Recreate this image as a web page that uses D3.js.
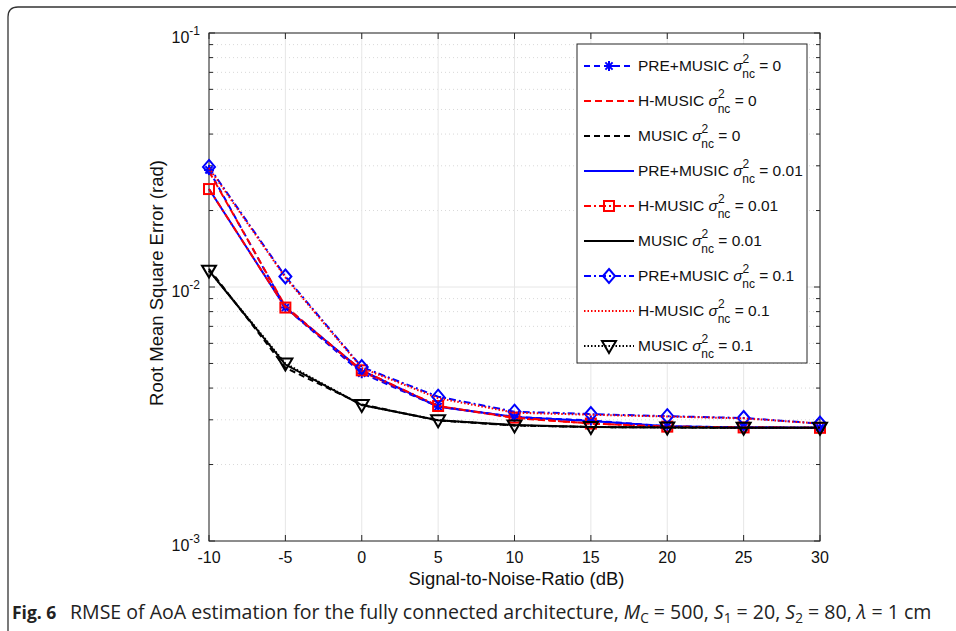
<!DOCTYPE html>
<html>
<head>
<meta charset="utf-8">
<script src="https://cdn.jsdelivr.net/npm/d3@7"></script>
<style>
  body { margin: 0; background: #fff; }
  svg { display: block; font-family: "Liberation Sans", Arial, sans-serif; }
</style>
</head>
<body>
<div id="chart"></div>
<script>
"use strict";

// === DATA ===
const snr = [-10, -5, 0, 5, 10, 15, 20, 25, 30];
const xTicks = [-10, -5, 0, 5, 10, 15, 20, 25, 30];
const yDecades = [-3, -2, -1];

const prePerfect = [0.0289, 0.0083, 0.00458, 0.00338, 0.00308, 0.00298, 0.00283, 0.0028, 0.00279];
const hPerfect = [0.0285, 0.0084, 0.00465, 0.0034, 0.00305, 0.0029, 0.00282, 0.0028, 0.00279];
const musicPerfect = [0.0118, 0.00481, 0.00345, 0.00298, 0.00285, 0.00281, 0.0028, 0.00279, 0.00279];
const preSmall = [0.0243, 0.0083, 0.0047, 0.00338, 0.00308, 0.00297, 0.00283, 0.0028, 0.00279];
const hSmall = [0.0243, 0.0083, 0.0047, 0.0034, 0.00306, 0.0029, 0.00282, 0.0028, 0.00279];
const musicSmall = [0.0116, 0.00495, 0.00343, 0.00299, 0.00286, 0.00281, 0.0028, 0.00279, 0.00279];
const preLarge = [0.0297, 0.0110, 0.00484, 0.0037, 0.00323, 0.00316, 0.0031, 0.00305, 0.0029];
const hLarge = [0.0294, 0.0109, 0.0048, 0.00365, 0.0032, 0.00314, 0.00309, 0.00304, 0.0029];
const musicLarge = [0.0116, 0.0050, 0.00343, 0.00299, 0.00285, 0.00281, 0.0028, 0.00279, 0.00279];

const seriesNames = ["PRE+MUSIC", "H-MUSIC", "MUSIC", "PRE+MUSIC", "H-MUSIC", "MUSIC", "PRE+MUSIC", "H-MUSIC", "MUSIC"];
const seriesNoise = ["0", "0", "0", "0.01", "0.01", "0.01", "0.1", "0.1", "0.1"];
const seriesValues = [prePerfect, hPerfect, musicPerfect, preSmall, hSmall, musicSmall, preLarge, hLarge, musicLarge];

// line styles
const styles = [
  { color: "#0000ff", dash: "6,4", marker: "star" },
  { color: "#ff0000", dash: "7,4", marker: null },
  { color: "#000000", dash: "6,4", marker: null },
  { color: "#0000ff", dash: null, marker: null },
  { color: "#ff0000", dash: "7,3,2,3", marker: "square" },
  { color: "#000000", dash: null, marker: null },
  { color: "#0000ff", dash: "7,3,2,3", marker: "diamond" },
  { color: "#ff0000", dash: "1.5,2", marker: null },
  { color: "#000000", dash: "1.5,2", marker: "triangle" }
];

// === SVG SETUP ===
const W = 956, H = 631;
const plot = { left: 209, right: 820, top: 33, bottom: 541 };

const svg = d3.select("#chart").append("svg")
  .attr("width", W).attr("height", H);

// page frame (rounded corner top-left)
svg.append("path")
  .attr("d", "M8,631 L8,17 Q8,7 18,7 L956,7")
  .attr("fill", "none")
  .attr("stroke", "#333")
  .attr("stroke-width", 1.3);

// === SCALES ===
const x = d3.scaleLinear().domain([-10, 30]).range([plot.left, plot.right]);
const y = d3.scaleLog().domain([1e-3, 1e-1]).range([plot.bottom, plot.top]);

// === GRID ===
const grid = svg.append("g");
const minor = [];
yDecades.slice(0, 2).forEach(p => {
  for (let k = 2; k <= 9; k++) minor.push(k * Math.pow(10, p));
});
grid.selectAll(".minor").data(minor).enter().append("line")
  .attr("x1", plot.left).attr("x2", plot.right)
  .attr("y1", d => y(d)).attr("y2", d => y(d))
  .attr("stroke", "#d9d9d9").attr("stroke-dasharray", "1,3");
grid.selectAll(".majy").data(yDecades.map(p => Math.pow(10, p))).enter().append("line")
  .attr("x1", plot.left).attr("x2", plot.right)
  .attr("y1", d => y(d)).attr("y2", d => y(d))
  .attr("stroke", "#e6e6e6");
grid.selectAll(".majx").data(xTicks).enter().append("line")
  .attr("x1", d => x(d)).attr("x2", d => x(d))
  .attr("y1", plot.top).attr("y2", plot.bottom)
  .attr("stroke", "#e6e6e6");

// === AXES (MATLAB-style box, inward ticks) ===
const axisColor = "#262626";
const ax = svg.append("g").attr("stroke", axisColor).attr("stroke-width", 1);
ax.append("rect")
  .attr("x", plot.left).attr("y", plot.top)
  .attr("width", plot.right - plot.left).attr("height", plot.bottom - plot.top)
  .attr("fill", "none");
xTicks.forEach(t => {
  ax.append("line").attr("x1", x(t)).attr("x2", x(t)).attr("y1", plot.bottom).attr("y2", plot.bottom - 6);
  ax.append("line").attr("x1", x(t)).attr("x2", x(t)).attr("y1", plot.top).attr("y2", plot.top + 6);
});
minor.concat(yDecades.map(p => Math.pow(10, p))).forEach(v => {
  const len = minor.includes(v) ? 4 : 6;
  ax.append("line").attr("x1", plot.left).attr("x2", plot.left + len).attr("y1", y(v)).attr("y2", y(v));
  ax.append("line").attr("x1", plot.right).attr("x2", plot.right - len).attr("y1", y(v)).attr("y2", y(v));
});

// tick labels
svg.selectAll(".xl").data(xTicks).enter().append("text")
  .attr("x", d => x(d)).attr("y", plot.bottom + 22)
  .attr("text-anchor", "middle").attr("font-size", 16).attr("fill", "#111")
  .text(d => d);

yDecades.forEach(p => {
  const t = svg.append("text")
    .attr("x", plot.left - 9).attr("y", y(Math.pow(10, p)) + 10)
    .attr("text-anchor", "end").attr("font-size", 16).attr("fill", "#111");
  t.append("tspan").text("10");
  t.append("tspan").attr("dy", -8).attr("font-size", 12).text(p);
});

// axis labels
svg.append("text")
  .attr("x", (plot.left + plot.right) / 2 + 2).attr("y", 585)
  .attr("text-anchor", "middle").attr("font-size", 18.5).attr("fill", "#111")
  .text("Signal-to-Noise-Ratio (dB)");
svg.append("text")
  .attr("transform", `translate(163,${(plot.top + plot.bottom) / 2 - 4}) rotate(-90)`)
  .attr("text-anchor", "middle").attr("font-size", 18.5).attr("fill", "#111")
  .text("Root Mean Square Error (rad)");

// === MARKERS ===
function drawMarker(g, type, cx, cy, color) {
  if (type === "star") {
    const r = 5, d = r * 0.72;
    g.append("path")
      .attr("d", `M${cx - r},${cy}L${cx + r},${cy}M${cx},${cy - r}L${cx},${cy + r}` +
        `M${cx - d},${cy - d}L${cx + d},${cy + d}M${cx - d},${cy + d}L${cx + d},${cy - d}`)
      .attr("stroke", color).attr("stroke-width", 2).attr("fill", "none");
  } else if (type === "square") {
    g.append("rect").attr("x", cx - 5).attr("y", cy - 5).attr("width", 10).attr("height", 10)
      .attr("fill", "none").attr("stroke", color).attr("stroke-width", 2);
  } else if (type === "diamond") {
    g.append("path")
      .attr("d", `M${cx},${cy - 7}L${cx + 6},${cy}L${cx},${cy + 7}L${cx - 6},${cy}Z`)
      .attr("fill", "none").attr("stroke", color).attr("stroke-width", 2);
  } else if (type === "triangle") {
    g.append("path")
      .attr("d", `M${cx - 7},${cy - 5}L${cx + 7},${cy - 5}L${cx},${cy + 7}Z`)
      .attr("fill", "none").attr("stroke", color).attr("stroke-width", 2);
  }
}

// === LINES ===
const line = d3.line().x((d, i) => x(snr[i])).y(d => y(d));
const plotG = svg.append("g");
seriesValues.forEach((vals, k) => {
  const s = styles[k];
  plotG.append("path")
    .attr("d", line(vals))
    .attr("fill", "none")
    .attr("stroke", s.color)
    .attr("stroke-width", 2)
    .attr("stroke-dasharray", s.dash);
  if (s.marker) {
    vals.forEach((v, i) => drawMarker(plotG, s.marker, x(snr[i]), y(v), s.color));
  }
});

// === LEGEND ===
const leg = { x: 577, y: 44, w: 230, h: 319, first: 66, step: 35 };
svg.append("rect")
  .attr("x", leg.x).attr("y", leg.y).attr("width", leg.w).attr("height", leg.h)
  .attr("fill", "#fff").attr("stroke", axisColor).attr("stroke-width", 1);

seriesNames.forEach((name, k) => {
  const s = styles[k];
  const cy = leg.first + k * leg.step;
  svg.append("line")
    .attr("x1", leg.x + 7).attr("x2", leg.x + 57)
    .attr("y1", cy).attr("y2", cy)
    .attr("stroke", s.color).attr("stroke-width", 2)
    .attr("stroke-dasharray", s.dash);
  if (s.marker) drawMarker(svg, s.marker, leg.x + 32, cy, s.color);
  const t = svg.append("text")
    .attr("x", leg.x + 61).attr("y", cy + 5)
    .attr("font-size", 15.5).attr("fill", "#111");
  t.append("tspan").text(name + " ");
  t.append("tspan").attr("font-style", "italic").text("σ");
  t.append("tspan").attr("font-size", 12).attr("dy", -8).text("2");
  t.append("tspan").attr("font-size", 12).attr("dx", -7).attr("dy", 15).text("nc");
  t.append("tspan").attr("dy", -7).text(" = " + seriesNoise[k]);
});

// === CAPTION ===
svg.append("text")
  .attr("x", 12).attr("y", 619)
  .attr("font-family", "'Open Sans', sans-serif")
  .attr("font-weight", "bold")
  .attr("font-size", 17.5).attr("fill", "#222")
  .text("Fig. 6");

const cap = svg.append("text")
  .attr("x", 70).attr("y", 619)
  .attr("font-family", "'Open Sans', sans-serif")
  .attr("font-size", 16).attr("fill", "#222");
cap.append("tspan").text("RMSE of AoA estimation for the fully connected architecture, ");
cap.append("tspan").attr("font-style", "italic").text("M");
cap.append("tspan").attr("font-size", "0.7em").attr("dy", 4).text("C");
cap.append("tspan").attr("dy", -4).text(" = 500, ");
cap.append("tspan").attr("font-style", "italic").text("S");
cap.append("tspan").attr("font-size", "0.7em").attr("dy", 4).text("1");
cap.append("tspan").attr("dy", -4).text(" = 20, ");
cap.append("tspan").attr("font-style", "italic").text("S");
cap.append("tspan").attr("font-size", "0.7em").attr("dy", 4).text("2");
cap.append("tspan").attr("dy", -4).text(" = 80, ");
cap.append("tspan").attr("font-style", "italic").text("λ");
cap.append("tspan").text(" = 1 cm");

// fit caption so it ends where the printed caption ends (~x 932)
const capW = cap.node().getBBox().width;
cap.attr("font-size", (16 * (932 - 70) / capW).toFixed(2));
</script>
</body>
</html>
